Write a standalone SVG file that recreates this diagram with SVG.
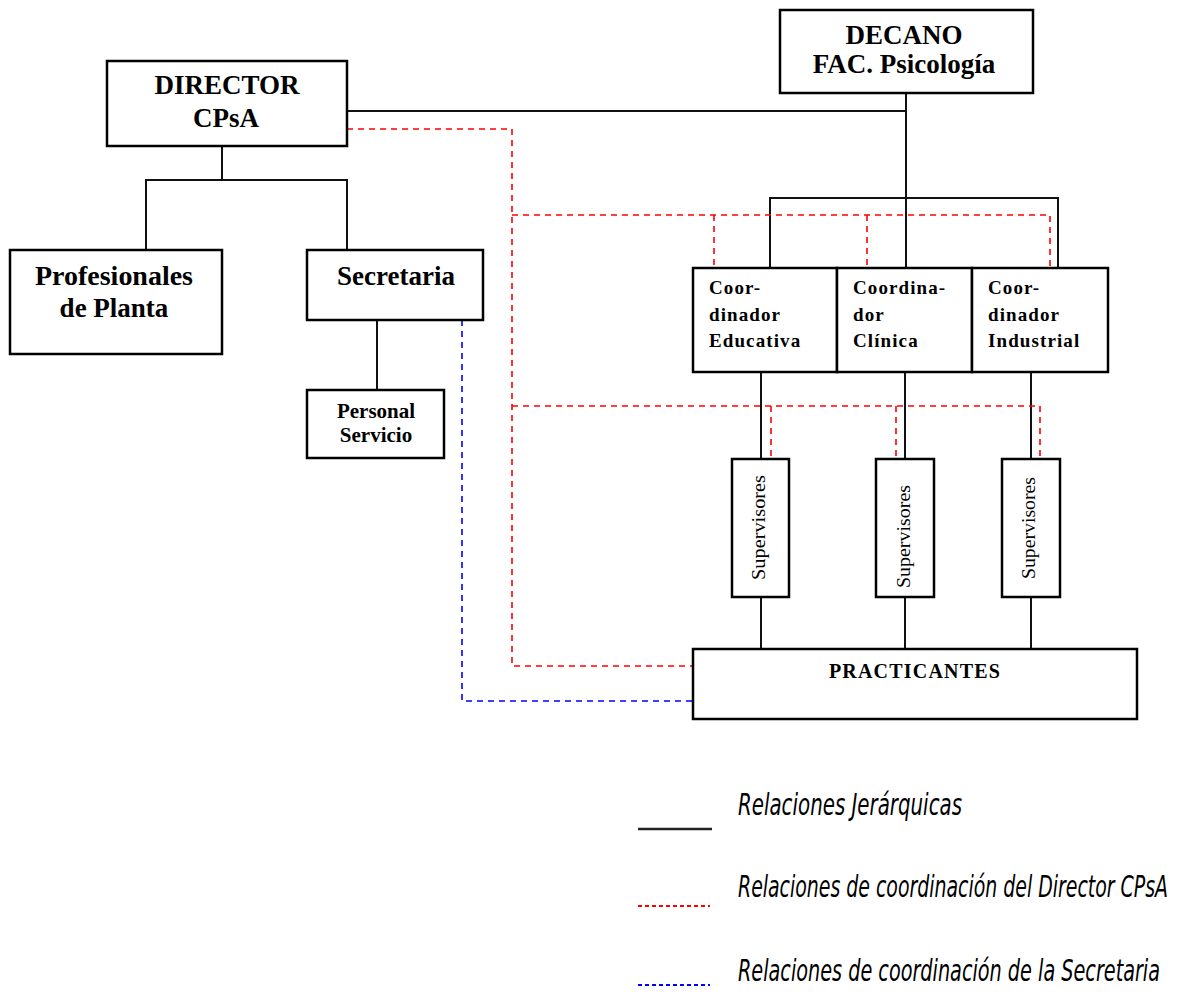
<svg xmlns="http://www.w3.org/2000/svg" width="1180" height="997" viewBox="0 0 1180 997">
<style>
.box{fill:#fff;stroke:#000;stroke-width:2.5}
.t{font-family:"Liberation Serif",serif;font-weight:bold;fill:#000}
.big{font-size:27px}
.mid{font-size:19px;letter-spacing:1.1px}
.ps{font-size:21px}
.pr{font-size:20px;letter-spacing:1.2px}
.sup{font-family:"Liberation Serif",serif;font-size:18px;fill:#000}
.h{fill:none;stroke:#111;stroke-width:2}
.r{fill:none;stroke:#ff0000;stroke-width:1.6;stroke-dasharray:6,5}
.b{fill:none;stroke:#0000ff;stroke-width:1.6;stroke-dasharray:6,5}
.lg{font-family:"DejaVu Sans Condensed","DejaVu Sans",sans-serif;font-style:italic;font-size:22px;fill:#000}
</style>
<rect width="1180" height="997" fill="#fff"/>
<g id="connectors">
<path class="h" d="M347 111 H906 M906 93 V268 M770 268 V198 H1058 V268 M222 146 V180 M146 250 V180 H347 V250 M377 320 V390 M761 372 V459 M905 372 V459 M1031 372 V459 M761 597 V649 M905 597 V649 M1031 597 V649"/>
<path class="r" d="M347 129 H512 V666 H693 M512 215 H1050 V268 M714 215 V268 M867 215 V268 M512 406 H1040 V459 M771 406 V459 M896 406 V459"/>
<path class="b" d="M462 320 V701 H693"/>
</g>
<g id="director"><rect class="box" x="107" y="61" width="240" height="85"/><text class="t big" x="227" y="94" text-anchor="middle">DIRECTOR</text><text class="t big" x="226" y="127" text-anchor="middle">CPsA</text></g>
<g id="decano"><rect class="box" x="780" y="10" width="253" height="83"/><text class="t big" x="904" y="44" text-anchor="middle">DECANO</text><text class="t big" x="904" y="73" text-anchor="middle">FAC. Psicología</text></g>
<g id="profesionales"><rect class="box" x="10" y="250" width="212" height="104"/><text class="t big" x="114" y="285" text-anchor="middle" textLength="158" lengthAdjust="spacingAndGlyphs">Profesionales</text><text class="t big" x="114" y="317" text-anchor="middle">de Planta</text></g>
<g id="secretaria"><rect class="box" x="307" y="250" width="176" height="70"/><text class="t big" x="396" y="285" text-anchor="middle">Secretaria</text></g>
<g id="personal"><rect class="box" x="307" y="390" width="137" height="68"/><text class="t ps" x="376" y="418" text-anchor="middle">Personal</text><text class="t ps" x="376" y="442" text-anchor="middle">Servicio</text></g>
<g id="coord-educativa"><rect class="box" x="693" y="268" width="144" height="104"/><text class="t mid" x="709" y="294">Coor-</text><text class="t mid" x="709" y="321">dinador</text><text class="t mid" x="709" y="347">Educativa</text></g>
<g id="coord-clinica"><rect class="box" x="837" y="268" width="135" height="104"/><text class="t mid" x="853" y="294">Coordina-</text><text class="t mid" x="853" y="321">dor</text><text class="t mid" x="853" y="347">Clínica</text></g>
<g id="coord-industrial"><rect class="box" x="972" y="268" width="136" height="104"/><text class="t mid" x="988" y="294">Coor-</text><text class="t mid" x="988" y="321">dinador</text><text class="t mid" x="988" y="347">Industrial</text></g>
<g id="sup1"><rect class="box" x="732" y="459" width="57" height="138"/><text class="sup" transform="translate(765,527.5) rotate(-90)" text-anchor="middle" textLength="105" lengthAdjust="spacingAndGlyphs">Supervisores</text></g>
<g id="sup2"><rect class="box" x="876" y="459" width="58" height="138"/><text class="sup" transform="translate(910,536.5) rotate(-90)" text-anchor="middle" textLength="103" lengthAdjust="spacingAndGlyphs">Supervisores</text></g>
<g id="sup3"><rect class="box" x="1002" y="459" width="58" height="138"/><text class="sup" transform="translate(1035,528) rotate(-90)" text-anchor="middle" textLength="102" lengthAdjust="spacingAndGlyphs">Supervisores</text></g>
<g id="practicantes"><rect class="box" x="693" y="649" width="444" height="70"/><text class="t pr" x="915" y="678" text-anchor="middle">PRACTICANTES</text></g>
<g id="legend">
<line x1="638" y1="829" x2="712" y2="829" stroke="#222" stroke-width="2.5"/>
<line x1="638" y1="906" x2="710" y2="906" stroke="#ff0000" stroke-width="2" stroke-dasharray="4,3"/>
<line x1="638" y1="985" x2="710" y2="985" stroke="#0000ff" stroke-width="2" stroke-dasharray="4,3"/>
<text class="lg" transform="translate(738,815) scale(1,1.35)" textLength="224" lengthAdjust="spacingAndGlyphs">Relaciones Jerárquicas</text>
<text class="lg" transform="translate(738,897) scale(1,1.45)" style="font-size:20.5px" textLength="430" lengthAdjust="spacingAndGlyphs">Relaciones de coordinación del Director CPsA</text>
<text class="lg" transform="translate(738,981) scale(1,1.35)" textLength="422" lengthAdjust="spacingAndGlyphs">Relaciones de coordinación de la Secretaria</text>
</g>
</svg>
